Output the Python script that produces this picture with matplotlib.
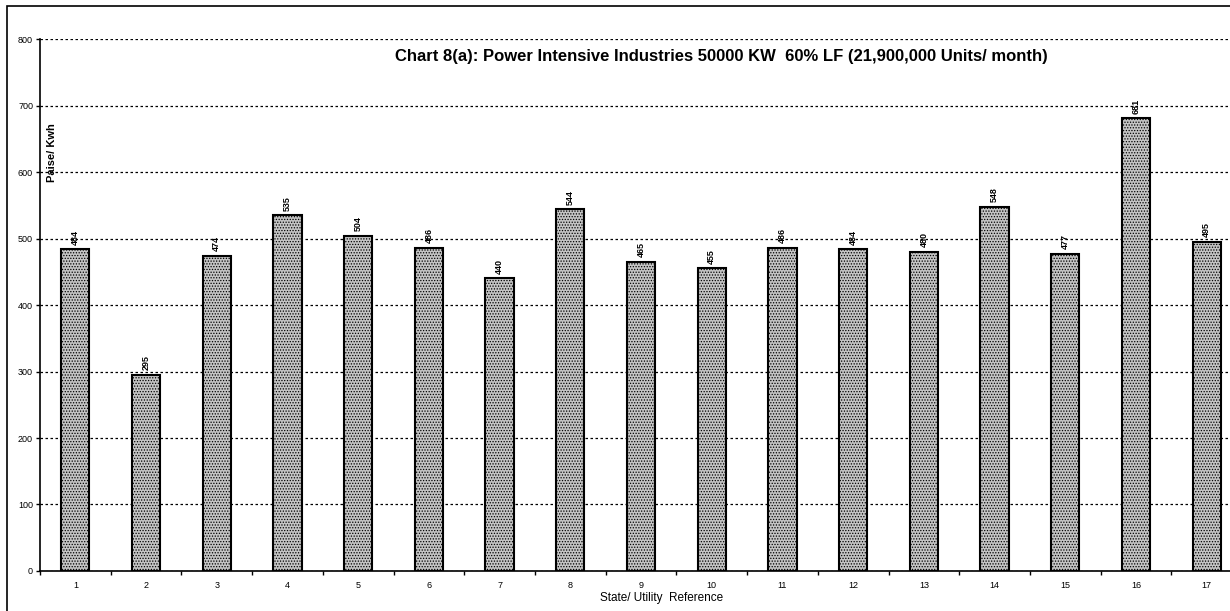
import numpy as np
import matplotlib
matplotlib.use("Agg")
import matplotlib.pyplot as plt
from matplotlib.patches import Rectangle

# ---------------------------------------------------------
# data
# ---------------------------------------------------------
refs = list(range(1, 18))
tariff = [484, 295, 474, 535, 504, 486, 440, 544, 465, 455,
          486, 484, 480, 548, 477, 681, 495]
y_ticks = [0, 100, 200, 300, 400, 500, 600, 700, 800]

TITLE = "Chart 8(a): Power Intensive Industries 50000 KW  60% LF (21,900,000 Units/ month)"

plt.rcParams["font.family"] = ["Liberation Sans", "DejaVu Sans"]
plt.rcParams["hatch.color"] = "#555555"
plt.rcParams["hatch.linewidth"] = 0.6

fig = plt.figure(figsize=(12.3, 6.11), dpi=100)
ax = fig.add_axes([0.0325, 0.0655, 0.9773, 0.8705])

x = np.arange(len(refs))
bars = ax.bar(x, tariff, width=0.4, color="#c4c4c4", edgecolor="black",
              linewidth=1.5, hatch="......", zorder=3)

# value labels, rotated like the original sheet
for xi, v in zip(x, tariff):
    ax.text(xi, v + 7, str(v), rotation=90, ha="center", va="bottom",
            fontsize=6.5, fontweight="bold", zorder=4)

ax.set_xlim(-0.5, len(refs) - 0.5)
ax.set_ylim(0, 800)
ax.set_yticks(y_ticks)
ax.tick_params(axis="y", labelsize=6.5, length=3, width=1, pad=2)

ax.set_xticks(x)
ax.set_xticklabels([str(r) for r in refs], fontsize=6.5)
ax.tick_params(axis="x", which="major", length=0, pad=7)
ax.set_xticks(np.arange(-0.5, len(refs), 1), minor=True)
ax.tick_params(axis="x", which="minor", length=3, width=1)

ax.grid(axis="y", linestyle=(0, (2, 2)), color="black", linewidth=0.9, zorder=0)
for s in ["top", "right"]:
    ax.spines[s].set_visible(False)
ax.spines["left"].set_linewidth(1.2)
ax.spines["bottom"].set_linewidth(1.2)

ax.text(0.0058, 0.786, "Paise/ Kwh", rotation=90, transform=ax.transAxes,
        fontsize=8, fontweight="bold", ha="left", va="center")
ax.text(0.5665, 0.967, TITLE, transform=ax.transAxes, fontsize=12,
        fontweight="bold", ha="center", va="center")
ax.set_xlabel("State/ Utility  Reference", fontsize=8.5, labelpad=0)
ax.xaxis.set_label_coords(0.517, -0.05)
ax.xaxis.label.set_va("center")

# outer sheet frame
fig.add_artist(Rectangle((0.0057, -0.01), 1.0, 1.0 - 0.0098 + 0.01,
                         transform=fig.transFigure, fill=False,
                         edgecolor="black", linewidth=1.2))

fig.savefig("out.png", dpi=100)
